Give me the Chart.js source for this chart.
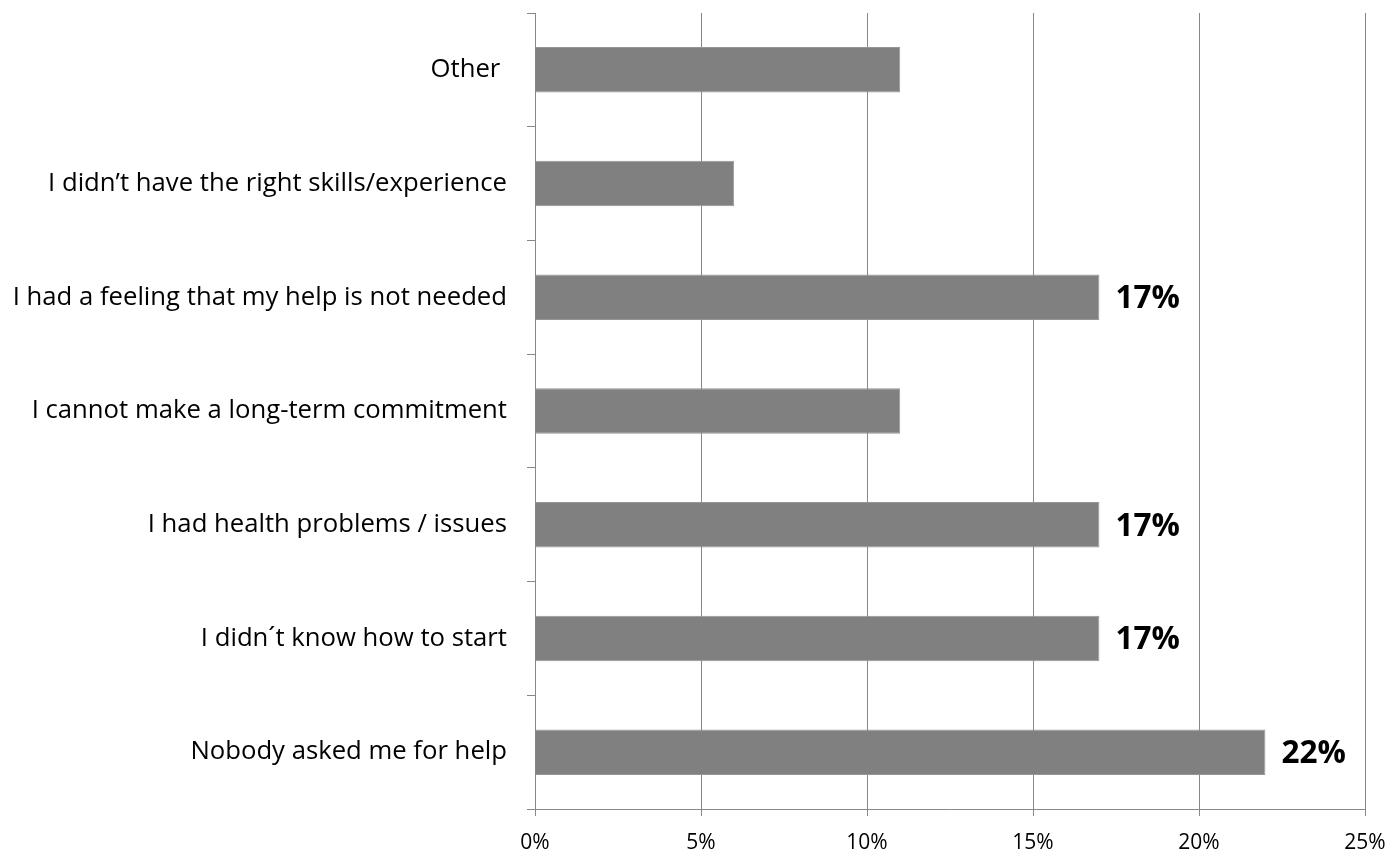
<!DOCTYPE html>
<html>
<head>
<meta charset="utf-8">
<script src="https://cdn.jsdelivr.net/npm/chart.js@4"></script>
<style>
  html, body { margin: 0; padding: 0; background: #ffffff; }
  #wrap { width: 1393px; height: 855px; }
</style>
</head>
<body>
<div id="wrap"><canvas id="reasonsChart" width="1393" height="855"></canvas></div>
<script>
// Reasons for not volunteering (share of respondents, %)
const reasons = [
  "Other ",
  "I didn\u2019t have the right skills/experience",
  "I had a feeling that my help is not needed",
  "I cannot make a long-term commitment",
  "I had health problems / issues",
  "I didn\u00b4t know how to start",
  "Nobody asked me for help"
];
const shares = [11, 6, 17, 11, 17, 17, 22];
// which bars carry a value label
const showValue = [false, false, true, false, true, true, true];
const xTicks = [0, 5, 10, 15, 20, 25];

const gridGrey = "#888888";
const fontFace = "'Open Sans', Lato, sans-serif";

// draws the bold "17%" style labels next to the bar ends
const valueLabels = {
  id: "valueLabels",
  afterDatasetsDraw(chart) {
    const ctx = chart.ctx;
    const meta = chart.getDatasetMeta(0);
    ctx.save();
    ctx.font = "bold 31.5px " + fontFace;
    ctx.fillStyle = "#000000";
    ctx.textAlign = "left";
    ctx.textBaseline = "middle";
    meta.data.forEach((bar, i) => {
      if (!showValue[i]) return;
      ctx.fillText(shares[i] + "%", bar.x + 16, bar.y + 2);
    });
    ctx.restore();
  }
};

new Chart("reasonsChart", {
  type: "bar",
  data: {
    labels: reasons,
    datasets: [{
      data: shares,
      backgroundColor: "#808080",
      borderColor: "#969696",
      borderWidth: 1,
      categoryPercentage: 1,
      barPercentage: 0.4
    }]
  },
  options: {
    indexAxis: "y",
    responsive: false,
    animation: false,
    layout: { padding: { top: 13, right: 28, left: 0, bottom: 0 } },
    plugins: {
      legend: { display: false },
      tooltip: { enabled: false }
    },
    scales: {
      x: {
        min: 0,
        max: 25,
        afterBuildTicks: (axis) => { axis.ticks = xTicks.map(v => ({ value: v })); },
        afterFit: (axis) => {
          axis.height = 46;
          axis.paddingLeft = 0;
          axis.paddingRight = 0;
        },
        border: { color: gridGrey, width: 1 },
        grid: { color: gridGrey, lineWidth: 1, tickLength: 7 },
        ticks: {
          color: "#000000",
          padding: 14,
          maxRotation: 0,
          font: { family: fontFace, size: 21 },
          callback: (v) => v + "%"
        }
      },
      y: {
        afterFit: (axis) => {
          axis.width = 535;
          axis.paddingTop = 0;
          axis.paddingBottom = 0;
        },
        border: { color: gridGrey, width: 1 },
        grid: { drawOnChartArea: false, color: gridGrey, tickLength: 8, offset: true },
        ticks: {
          color: "#000000",
          padding: 20,
          font: { family: fontFace, size: 25.7 }
        }
      }
    }
  },
  plugins: [valueLabels]
});
</script>
</body>
</html>
